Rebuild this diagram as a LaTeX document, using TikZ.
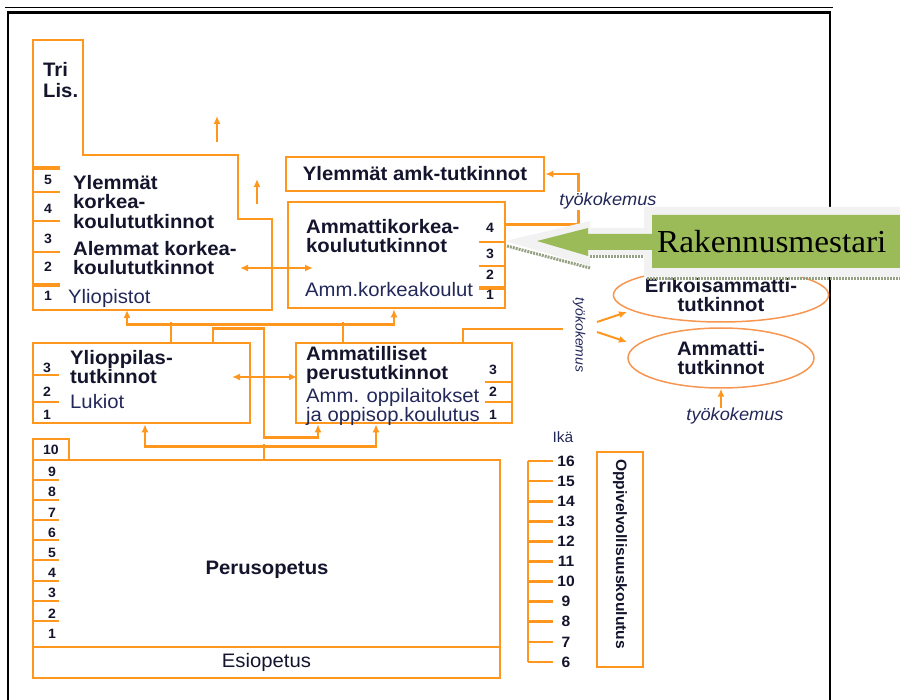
\documentclass[tikz,border=0pt]{standalone}
\usepackage{fontspec}
\setmainfont{Liberation Sans}[FakeStretch=1.04]
\newfontfamily\serifrm{Liberation Serif}[FakeStretch=1.04]
\usetikzlibrary{arrows.meta,shapes.geometric}
\definecolor{orng}{RGB}{255,150,30}
\definecolor{ellorng}{RGB}{246,150,80}
\definecolor{ink}{RGB}{20,20,45}
\definecolor{inkblue}{RGB}{35,40,90}
\definecolor{rmgreen}{RGB}{155,187,89}
\definecolor{rmgray}{RGB}{242,242,242}
\definecolor{rmshadow}{RGB}{150,160,130}
\begin{document}
\begin{tikzpicture}
[x=1pt, y=-1pt, >={Latex[length=8pt,width=7pt]},
 box/.style={draw=orng, line width=2.6pt, inner sep=0pt, rectangle},
 hline/.style={draw=orng, line width=2.8pt},
 tick/.style={draw=orng, line width=2pt},
 thicktick/.style={draw=orng, line width=3.2pt},
 bold/.style={font=\bfseries\fontsize{19.5}{19.5}\selectfont, text=ink, inner sep=0pt, align=left},
 plain/.style={font=\fontsize{19.5}{19}\selectfont, text=inkblue, inner sep=0pt, align=left},
 num/.style={font=\bfseries\fontsize{13.5}{13.5}\selectfont, text=ink, inner sep=0pt},
 agenum/.style={font=\bfseries\fontsize{15}{15}\selectfont, text=ink, inner sep=0pt},
 work/.style={font=\itshape\fontsize{17.5}{17.5}\selectfont, text=inkblue, inner sep=0pt},
 oval/.style={ellipse, draw=ellorng, line width=1.5pt, inner sep=0pt, align=center,
   font=\bfseries\fontsize{19.5}{18.5}\selectfont, text=ink}]
\useasboundingbox (0,0) rectangle (900,700);

% frame
\draw[black, line width=1pt] (5,8) -- (833,8);
\draw[black, line width=2.8pt] (8,700) -- (8,12.5) -- (830,12.5) -- (830,700);

% yliopistot
\draw[box, line join=miter] (33,40) -- (83,40) -- (83,155) -- (238,155)
  -- (238,219) -- (272,219) -- (272,310) -- (33,310) -- cycle;
\foreach \y in {192,221,252} \draw[tick] (33,\y) -- (60,\y);
\foreach \y in {168,285} \draw[thicktick] (33,\y) -- (60,\y);
\foreach \n/\y in {5/180,4/209,3/239,2/267,1/296}
  \node[num] (yo\n) at (48,\y) {\n};
\node[bold, anchor=north west] (trilis) at (43,62) {Tri\\[1.5pt]Lis.};
\node[bold, anchor=north west] (ylkk) at (73,175) {Ylemmät\\korkea-\\koulututkinnot};
\node[bold, anchor=north west] (alkk) at (73,241) {Alemmat korkea-\\koulututkinnot};
\node[plain, anchor=north west] (yliop) at (68,289) {Yliopistot};
\coordinate (up1) at (217,142);
\coordinate (up2) at (257,204);
\draw[hline, line width=2.2pt, ->] (up1) -- ++(0,-26);
\draw[hline, line width=2.2pt, ->] (up2) -- ++(0,-25);

% ammattikorkeakoulut
\node[box, minimum width=258pt, minimum height=34pt, bold] (yamk) at (415,174) {Ylemmät amk-tutkinnot};
\node[box, minimum width=217pt, minimum height=106pt] (amk) at (396.5,255) {};
\node[bold, anchor=north west] (amkt) at (306,219) {Ammattikorkea-\\koulututkinnot};
\node[plain, anchor=north west] (amkk) at (305,282) {Amm.korkeakoulut};
\draw[tick] (479,242) -- (505,242);
\draw[tick] (479,266) -- (505,266);
\draw[thicktick] (479,288) -- (505,288);
\foreach \n/\y in {4/228,3/254,2/275,1/295}
  \node[num] (amk\n) at (490,\y) {\n};

% lukiot
\node[box, minimum width=217pt, minimum height=80pt] (luk) at (141.5,383) {};
\node[bold, anchor=north west] (lukt) at (70,350) {Ylioppilas-\\tutkinnot};
\node[plain, anchor=north west] (lukk) at (70,394) {Lukiot};
\draw[tick] (33,375) -- (59,375);
\draw[tick] (33,402) -- (59,402);
\foreach \n/\y in {3/368,2/392,1/415}
  \node[num] (luk\n) at (47,\y) {\n};

% ammatilliset
\node[box, minimum width=216pt, minimum height=80pt] (amm) at (404,383) {};
\node[bold, anchor=north west] (ammt) at (306,346) {Ammatilliset\\perustutkinnot};
\node[plain, anchor=north west] (ammk) at (306,388) {Amm. oppilaitokset\\ja oppisop.koulutus};
\draw[tick] (485,382) -- (512,382);
\draw[tick] (485,402) -- (512,402);
\foreach \n/\y in {3/370,2/392,1/415}
  \node[num] (amm\n) at (493,\y) {\n};

% perusopetus
\node[box, minimum width=36pt, minimum height=21pt, num] (kymppi) at (51,449.5) {10};
\node[box, minimum width=467pt, minimum height=187pt] (perus) at (266.5,553.5) {};
\node[bold] (perust) at (267,570) {Perusopetus};
\node[box, minimum width=467pt, minimum height=31pt, plain, text=ink] (esi) at (266.5,662.5) {Esiopetus};
\foreach \j in {0,...,7} \draw[tick] (33,{480+20.1*\j}) -- (59,{480+20.1*\j});
\foreach \n in {1,...,9} \node[num] (pk\n) at (52,{472+20.2*(9-\n)}) {\n};

% ika
\node[plain, font=\fontsize{15}{15}\selectfont] (ika) at (563,437) {Ikä};
\draw[hline] (528,461) -- (528,662);
\foreach \i in {0,...,10} {
  \pgfmathtruncatemacro\age{16-\i}
  \draw[hline] (528,{461+20.1*\i}) -- ++(25,0);
  \node[agenum] (age\age) at (566,{461+20.1*\i}) {\age};
}
\node[box, minimum width=46pt, minimum height=215pt] (ov) at (620,559.5) {};
\node[bold, rotate=-90, font=\bfseries\fontsize{15}{15}\selectfont] (ovt) at (620,554) {Oppivelvollisuuskoulutus};

% tutkinnot
\node[oval, minimum width=186pt, minimum height=54pt] (eamtut) at (721,295) {Erikoisammatti-\\tutkinnot};
\node[oval, minimum width=186pt, minimum height=60pt] (amtut) at (721,358) {Ammatti-\\tutkinnot};
\node[work, rotate=-90, font=\itshape\fontsize{13.5}{13.5}\selectfont] (tk2) at (579,335) {työkokemus};
\node[work] (tk3) at (735,416) {työkokemus};

% yhteydet
\coordinate (yoIn) at (240,268);
\coordinate (amkIn) at (313,268);
\coordinate (lukIn) at (232,377);
\coordinate (ammIn) at (297,377);
\coordinate (yoB) at (127,310);
\coordinate (ammR) at (563,329);
\coordinate (tkA) at (597,322);
\coordinate (tkB) at (597,332);
\coordinate (eA) at (627,312);
\coordinate (eB) at (627,342);
\draw[hline, <->] (yoIn) -- (amkIn);
\draw[hline, <->] (lukIn) -- (ammIn);
\draw[hline, ->] ([yshift=-24pt]amk.north east) -- ++(72,0) |- (yamk.east);
\node[work, fill=white, inner ysep=1pt] (tk1) at (608,201) {työkokemus};
\draw[hline, <->] (yoB) |- ([xshift=-2.5pt,yshift=-15pt]amk.south) -- ([xshift=-2.5pt]amk.south);
\draw[hline] ([xshift=29.5pt]luk.north) -- ++(0,-20);
\draw[hline] ([xshift=-61pt]amm.north) -- ++(0,-20);
\draw[hline, ->] ([xshift=71.5pt]luk.north) -- ++(0,-13) -- ++(51,0)
  |- ([xshift=-86pt,yshift=-13pt]amm.south) -- ([xshift=-86pt]amm.south);
\draw[hline] ([xshift=-2.5pt]perus.north) -- ++(0,-15);
\draw[hline, <->] ([xshift=3.5pt]luk.south) |- ([xshift=-28pt,yshift=-22pt]amm.south) -- ([xshift=-28pt]amm.south);
\draw[hline] ([xshift=59pt]amm.north) |- (ammR);
\draw[hline, line width=2pt, ->] (tkA) -- (eA);
\draw[hline, line width=2pt, ->] (tkB) -- (eB);
\draw[hline, line width=2pt, ->] (tk3.north -| amtut.south) -- (amtut.south);

% rakennusmestari
\draw[rmshadow, line width=3pt, dash pattern=on 2pt off 1pt] (507,246) -- (590,268);
\draw[rmshadow, line width=3pt, dash pattern=on 2pt off 1pt] (590,257) -- (644,257);
\draw[rmshadow, line width=3pt, dash pattern=on 2pt off 1pt] (647,279) -- (900,279);
\fill[rmgray] (505,241) -- (590,221) -- (590,228) -- (644,228) -- (644,207) -- (900,207)
  -- (900,277) -- (644,277) -- (644,255) -- (590,255) -- (590,266) -- cycle;
\fill[rmgreen] (537,241) -- (588,228) -- (588,234) -- (652,234) -- (652,215) -- (900,215)
  -- (900,268) -- (652,268) -- (652,250) -- (588,250) -- (588,256) -- cycle;
\node[font=\serifrm\fontsize{32}{32}\selectfont, anchor=west, inner sep=0pt] (rm) at (657,242) {Rakennusmestari};
\end{tikzpicture}
\end{document}
